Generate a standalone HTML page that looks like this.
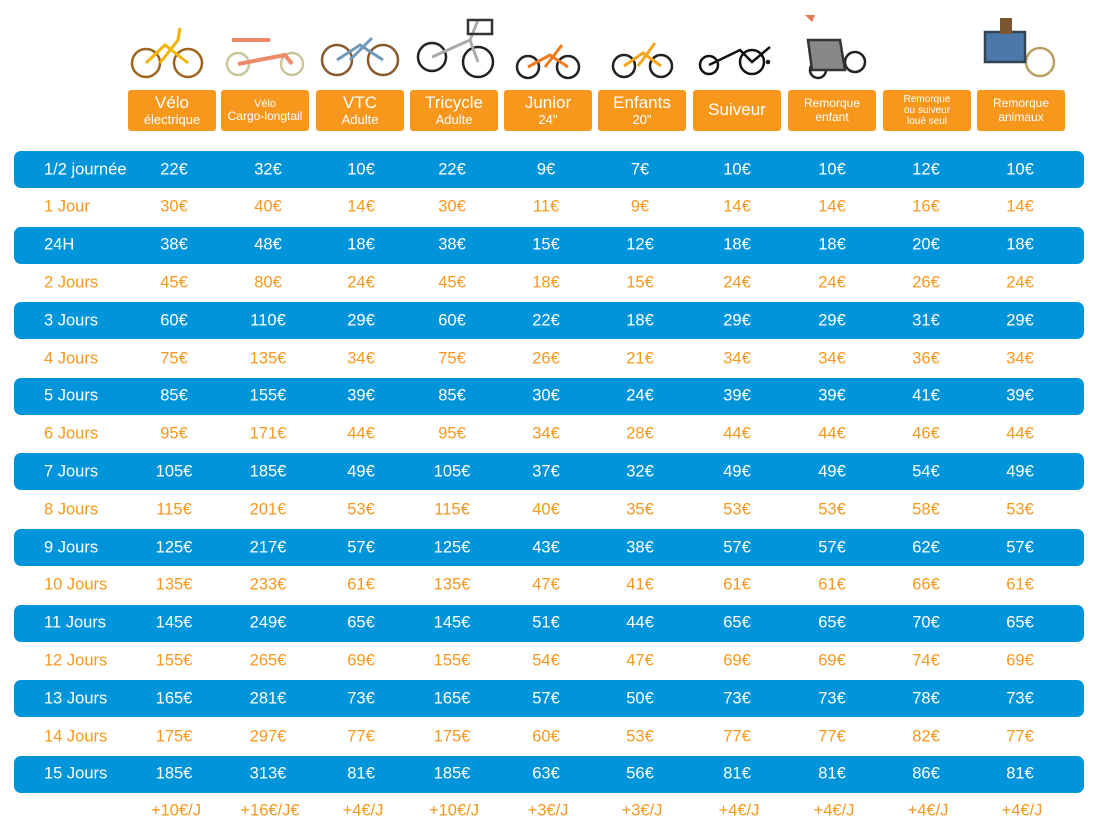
<!DOCTYPE html>
<html><head><meta charset="utf-8"><style>
body{margin:0;width:1097px;height:831px;background:#fff;font-family:"Liberation Sans",sans-serif;position:relative;overflow:hidden}
.bar{position:absolute;left:14px;width:1070px;height:37px;background:#0095da;border-radius:7px}
.t{position:absolute;font-size:16.5px;transform:translate(-50%,-50%);white-space:nowrap}
.l{position:absolute;font-size:16.5px;transform:translateY(-50%);white-space:nowrap}
.h{position:absolute;top:90px;height:41px;width:88px;background:#f7981d;border-radius:3px;color:#fff;text-align:center;display:flex;flex-direction:column;justify-content:center;line-height:1.1}
.svg{position:absolute;top:0;left:0}
</style></head><body>
<svg class="svg" width="1097" height="90">
<g fill="none" stroke-width="2.5">
<g stroke="#a0651e"><circle cx="146" cy="63" r="14"/><circle cx="188" cy="63" r="14"/></g><path d="M146 63 L165 45 L188 63 M160 63 L178 40 L180 28" stroke="#f5b400" stroke-width="3"/>
<g stroke="#c9c69a"><circle cx="238" cy="64" r="11"/><circle cx="292" cy="64" r="11"/></g><path d="M232 40 L270 40 M238 64 L285 55 L292 64" stroke="#ee8a6a" stroke-width="4"/>
<g stroke="#8b5a2b"><circle cx="337" cy="60" r="15"/><circle cx="383" cy="60" r="15"/></g><path d="M337 60 L360 45 L383 60 M350 60 L372 38" stroke="#6f96bb" stroke-width="3"/>
<g stroke="#222"><circle cx="432" cy="57" r="14"/><circle cx="478" cy="62" r="15"/></g><path d="M432 57 L470 40 L478 62 M470 40 L478 20" stroke="#aaa" stroke-width="3"/><rect x="468" y="20" width="24" height="14" stroke="#333"/>
<g stroke="#222"><circle cx="528" cy="67" r="11"/><circle cx="568" cy="67" r="11"/></g><path d="M528 67 L550 55 L568 67 M545 67 L562 45" stroke="#f07a1e" stroke-width="3"/>
<g stroke="#222"><circle cx="624" cy="66" r="11"/><circle cx="661" cy="66" r="11"/></g><path d="M624 66 L643 53 L661 66 M638 66 L655 43" stroke="#f5a81e" stroke-width="3"/>
<g stroke="#111"><circle cx="709" cy="65" r="9"/><circle cx="752" cy="62" r="12"/><circle cx="768" cy="62" r="1"/></g><path d="M709 65 L740 50 L752 62 L770 47" stroke="#111"/>
<g stroke="#222"><circle cx="818" cy="70" r="8"/><circle cx="855" cy="62" r="10"/></g><path d="M808 40 L840 40 L845 70 L812 70 Z" fill="#888" stroke="#333"/><path d="M805 15 L815 15 L812 22 Z" fill="#e07a50" stroke="none"/>
<g stroke="#b9a060"><circle cx="1040" cy="62" r="14"/></g><rect x="985" y="32" width="40" height="30" fill="#4a78a8" stroke="#345"/><rect x="1000" y="18" width="12" height="16" fill="#7a5530" stroke="none"/>
</g></svg>
<div id="c"></div>
<script>
var O="#f7981d",W="#fff";
var hd=[["Vélo","électrique",17,13,128],["Vélo","Cargo-longtail",11,12,221],["VTC","Adulte",17,13,316],["Tricycle","Adulte",17,13,410],["Junior","24\"",17,13,504],["Enfants","20\"",17,13,598],["Suiveur","",17,0,693],["Remorque","enfant",12,12,788],["Remorque","ou suiveur<br>loué seul",10,10,883],["Remorque","animaux",12,12,977]];
var s="";
hd.forEach(function(h){s+='<div class="h" style="left:'+h[4]+'px"><div style="font-size:'+h[2]+'px">'+h[0]+'</div>'+(h[1]?'<div style="font-size:'+h[3]+'px;font-weight:normal">'+h[1]+'</div>':'')+'</div>';});
var labs=["1/2 journée","1 Jour","24H","2 Jours","3 Jours","4 Jours","5 Jours","6 Jours","7 Jours","8 Jours","9 Jours","10 Jours","11 Jours","12 Jours","13 Jours","14 Jours","15 Jours"];
var d=[[22,32,10,22,9,7,10,10,12,10],[30,40,14,30,11,9,14,14,16,14],[38,48,18,38,15,12,18,18,20,18],[45,80,24,45,18,15,24,24,26,24],[60,110,29,60,22,18,29,29,31,29],[75,135,34,75,26,21,34,34,36,34],[85,155,39,85,30,24,39,39,41,39],[95,171,44,95,34,28,44,44,46,44],[105,185,49,105,37,32,49,49,54,49],[115,201,53,115,40,35,53,53,58,53],[125,217,57,125,43,38,57,57,62,57],[135,233,61,135,47,41,61,61,66,61],[145,249,65,145,51,44,65,65,70,65],[155,265,69,155,54,47,69,69,74,69],[165,281,73,165,57,50,73,73,78,73],[175,297,77,175,60,53,77,77,82,77],[185,313,81,185,63,56,81,81,86,81]];
var cx=[174,268,361,452,546,640,737,832,926,1020];
for(var i=0;i<17;i++){var y=169.5+i*37.8,b=i%2==0,c=b?W:O;
if(b)s+='<div class="bar" style="top:'+(y-18.5)+'px"></div>';
s+='<div class="l" style="left:44px;top:'+y+'px;color:'+c+'">'+labs[i]+'</div>';
d[i].forEach(function(v,j){s+='<div class="t" style="left:'+cx[j]+'px;top:'+y+'px;color:'+c+'">'+v+'€</div>';});}
["+10€/J","+16€/J€","+4€/J","+10€/J","+3€/J","+3€/J","+4€/J","+4€/J","+4€/J","+4€/J"].forEach(function(v,j){s+='<div class="t" style="left:'+(cx[j]+2)+'px;top:811px;color:'+O+'">'+v+'</div>';});
document.getElementById("c").innerHTML=s;
</script>
</body></html>
